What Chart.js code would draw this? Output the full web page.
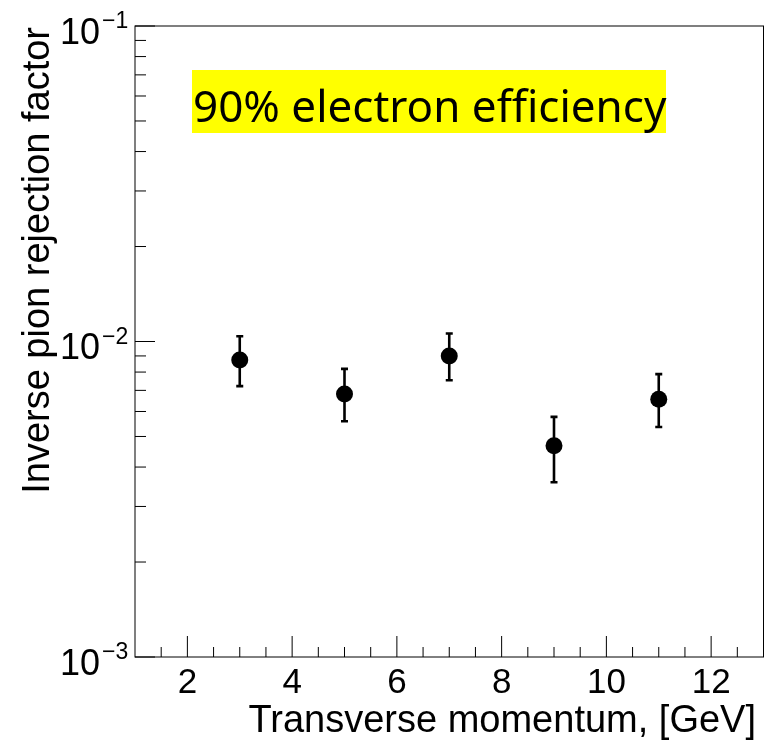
<!DOCTYPE html>
<html><head><meta charset="utf-8">
<script src="https://cdn.jsdelivr.net/npm/chart.js@4/dist/chart.umd.min.js"></script>
<style>html,body{margin:0;padding:0;background:#fff;}#wrap{width:772px;height:742px;}</style>
</head><body><div id="wrap"><canvas id="c" width="772" height="742"></canvas></div>
<script>
// ---- data ----
const momentum = [3, 5, 7, 9, 11];                                   // GeV
const invRejection = [0.00873, 0.00682, 0.00900, 0.00467, 0.00656];
const errUp   = [0.00166, 0.00137, 0.00160, 0.00110, 0.00132];
const errDown = [0.00151, 0.00123, 0.00146, 0.00109, 0.00120];
const xTickLabels = [2, 4, 6, 8, 10, 12];
const yDecades = [0.001, 0.01, 0.1];
const yExponents = ['\u22123', '\u22122', '\u22121'];
const xTitle = 'Transverse momentum, [GeV]';
const yTitle = 'Inverse pion rejection factor';
const boxText = '90% electron efficiency';

const SANS = '"Liberation Sans", Arial, Helvetica, sans-serif';

const rootStyle = {
  id: 'rootStyle',
  beforeDatasetsDraw(chart) {
    const { ctx, scales: { x, y } } = chart;
    ctx.save();
    ctx.strokeStyle = '#000';
    ctx.lineWidth = 2.6;
    momentum.forEach((m, i) => {
      const px = x.getPixelForValue(m);
      const pt = y.getPixelForValue(invRejection[i] + errUp[i]);
      const pb = y.getPixelForValue(invRejection[i] - errDown[i]);
      ctx.beginPath();
      ctx.moveTo(px, pt); ctx.lineTo(px, pb);
      ctx.moveTo(px - 3.5, pt); ctx.lineTo(px + 3.5, pt);
      ctx.moveTo(px - 3.5, pb); ctx.lineTo(px + 3.5, pb);
      ctx.stroke();
    });
    ctx.restore();
  },
  afterDraw(chart) {
    const { ctx, chartArea: a, scales: { x, y } } = chart;
    ctx.save();
    // frame
    ctx.strokeStyle = '#000';
    ctx.lineWidth = 1;
    ctx.strokeRect(a.left, a.top, a.right - a.left, a.bottom - a.top);
    // y ticks (inside, left axis)
    ctx.beginPath();
    for (let d = 0; d < yDecades.length; d++) {
      const v = yDecades[d];
      const p = y.getPixelForValue(v);
      ctx.moveTo(a.left, p); ctx.lineTo(a.left + 20, p);
      if (d < yDecades.length - 1) {
        for (let k = 2; k <= 9; k++) {
          const pm = y.getPixelForValue(k * v);
          ctx.moveTo(a.left, pm); ctx.lineTo(a.left + 11, pm);
        }
      }
    }
    // x ticks (inside, bottom axis)
    for (let v = Math.ceil(x.min * 2) / 2; v <= x.max; v += 0.5) {
      if (v <= x.min || v >= x.max) continue;
      const p = x.getPixelForValue(v);
      const major = xTickLabels.includes(v);
      ctx.moveTo(p, a.bottom); ctx.lineTo(p, a.bottom - (major ? 21 : 10));
    }
    ctx.stroke();
    // y tick labels 10^n
    ctx.fillStyle = '#000';
    ctx.textBaseline = 'alphabetic';
    yDecades.forEach((v, i) => {
      const p = y.getPixelForValue(v);
      ctx.font = '36px ' + SANS;
      ctx.textAlign = 'right';
      ctx.fillText('10', 100, p + 17.5);
      ctx.font = '23px ' + SANS;
      ctx.textAlign = 'left';
      ctx.fillText(yExponents[i], 102, p + 2);
    });
    // axis titles
    ctx.font = '38px ' + SANS;
    ctx.textAlign = 'right';
    ctx.fillText(xTitle, 756, 732);
    ctx.save();
    ctx.translate(49, a.top + 1);
    ctx.rotate(-Math.PI / 2);
    ctx.textAlign = 'right';
    ctx.fillText(yTitle, 0, 0);
    ctx.restore();
    // label box
    ctx.fillStyle = '#ffff00';
    ctx.fillRect(192, 70, 474, 63);
    ctx.fillStyle = '#000';
    ctx.font = '44px "Noto Sans", "Open Sans", sans-serif';
    ctx.textAlign = 'left';
    ctx.fillText(boxText, 193, 122);
    ctx.restore();
  }
};

new Chart(document.getElementById('c'), {
  type: 'scatter',
  data: {
    datasets: [{
      data: momentum.map((m, i) => ({ x: m, y: invRejection[i] })),
      pointRadius: 8.5,
      pointHoverRadius: 8.5,
      pointStyle: 'circle',
      backgroundColor: '#000',
      borderColor: '#000',
      borderWidth: 0,
      showLine: false
    }]
  },
  options: {
    responsive: false,
    devicePixelRatio: 1,
    animation: false,
    events: [],
    layout: { padding: { top: 26, right: 3, left: 0, bottom: 0 } },
    plugins: { legend: { display: false }, tooltip: { enabled: false }, title: { display: false } },
    scales: {
      x: {
        type: 'linear',
        min: 1, max: 13,
        afterFit(s) { s.height = 85; },
        afterBuildTicks(s) { s.ticks = xTickLabels.map(v => ({ value: v })); },
        grid: { display: false, drawTicks: false },
        border: { display: false },
        ticks: { color: '#000', padding: 5, font: { family: SANS, size: 35 }, maxRotation: 0, autoSkip: false }
      },
      y: {
        type: 'logarithmic',
        min: 0.001, max: 0.1,
        afterFit(s) { s.width = 135; },
        afterBuildTicks(s) { s.ticks = yDecades.map(v => ({ value: v })); },
        grid: { display: false, drawTicks: false },
        border: { display: false },
        ticks: { display: false }
      }
    }
  },
  plugins: [rootStyle]
});
</script>
</body></html>
